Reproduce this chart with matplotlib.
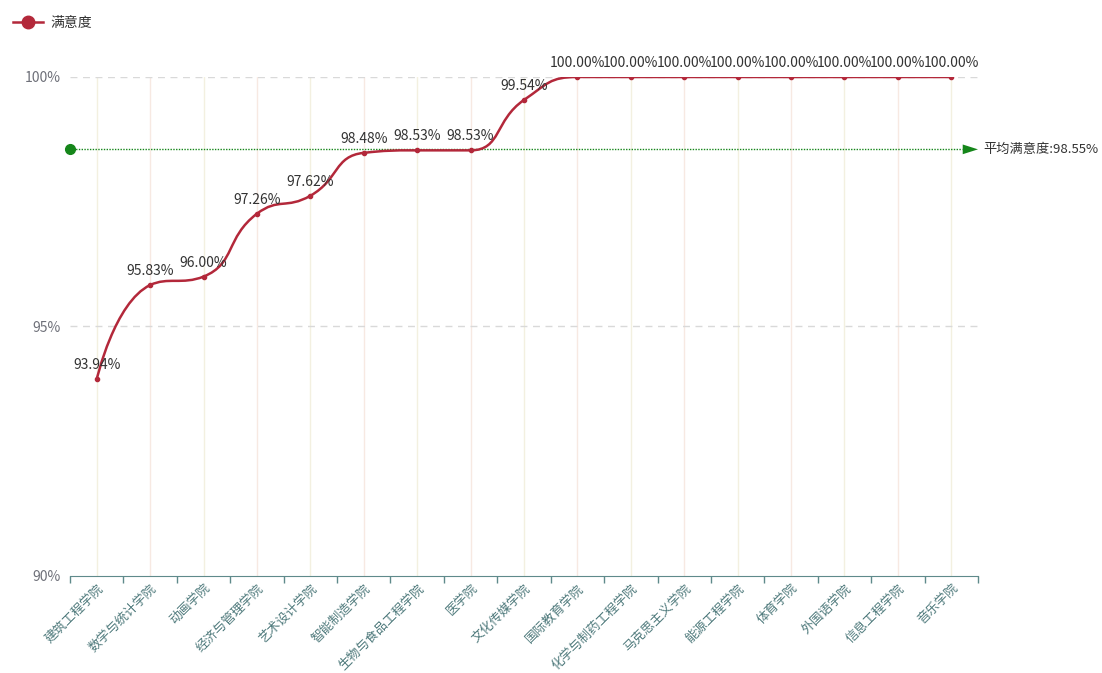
import numpy as np
import matplotlib.pyplot as plt
from matplotlib.path import Path
from matplotlib.patches import PathPatch
from matplotlib.lines import Line2D

plt.rcParams['font.family'] = ['Noto Sans CJK SC', 'DejaVu Sans']

colleges = ['建筑工程学院', '数学与统计学院', '动画学院', '经济与管理学院', '艺术设计学院',
            '智能制造学院', '生物与食品工程学院', '医学院', '文化传媒学院', '国际教育学院',
            '化学与制药工程学院', '马克思主义学院', '能源工程学院', '体育学院', '外国语学院',
            '信息工程学院', '音乐学院']
satisfaction = [93.94, 95.83, 96.00, 97.26, 97.62, 98.48, 98.53, 98.53, 99.54,
                100.00, 100.00, 100.00, 100.00, 100.00, 100.00, 100.00, 100.00]
avg_satisfaction = 98.55
y_ticks = [90, 95, 100]

line_color = '#b3283a'
axis_color = '#5f8a8b'
green = '#15861a'


def smooth_path(px, py, smooth=0.5):
    """Bezier path through points with clamped control points (no overshoot)."""
    n = len(px)
    verts = [(px[0], py[0])]
    codes = [Path.MOVETO]
    cp0 = (px[0], py[0])
    for i in range(1, n):
        x, y = px[i], py[i]
        if i == n - 1:
            verts += [cp0, (x, y), (x, y)]
            codes += [Path.CURVE4] * 3
            break
        x0, y0 = px[i - 1], py[i - 1]
        x1, y1 = px[i + 1], py[i + 1]
        vx, vy = x1 - x0, y1 - y0
        lp = np.hypot(x - x0, y - y0)
        ln = np.hypot(x1 - x, y1 - y)
        r = ln / (ln + lp)
        nx, ny = x + vx * smooth * r, y + vy * smooth * r
        nx = min(max(nx, min(x1, x)), max(x1, x))
        ny = min(max(ny, min(y1, y)), max(y1, y))
        vx, vy = nx - x, ny - y
        c1x, c1y = x - vx * lp / ln, y - vy * lp / ln
        c1x = min(max(c1x, min(x0, x)), max(x0, x))
        c1y = min(max(c1y, min(y0, y)), max(y0, y))
        vx, vy = x - c1x, y - c1y
        nx, ny = x + vx * ln / lp, y + vy * ln / lp
        verts += [cp0, (c1x, c1y), (x, y)]
        codes += [Path.CURVE4] * 3
        cp0 = (nx, ny)
    return verts, codes


fig = plt.figure(figsize=(11.02, 6.73), dpi=100)
ax = fig.add_axes([70 / 1102, 1 - 576 / 673, 908 / 1102, 499 / 673])

n = len(colleges)
x = np.arange(n)
y = np.array(satisfaction)
ax.set_xlim(-0.5, n - 0.5)
ax.set_ylim(90, 100)

# work in pixel units so the smoothing follows the drawn geometry
sx = 908 / n
sy = 499 / 10
verts, codes = smooth_path(x * sx, y * sy)
verts = [(a / sx, b / sy) for a, b in verts]
ax.add_patch(PathPatch(Path(verts, codes), facecolor='none', edgecolor=line_color,
                       lw=1.8, zorder=4))
ax.plot(x, y, 'o', color=line_color, ms=3, zorder=5)

for xi, yi in zip(x, y):
    ax.annotate(f'{yi:.2f}%', (xi, yi), xytext=(0, 5), textcoords='offset points',
                ha='center', va='bottom', fontsize=10, color='#333333', zorder=6)

# grid
for i in x:
    ax.axvline(i, color='#f3f0e0' if i % 2 == 0 else '#f7e9e2', lw=1, zorder=1)
for t in y_ticks[1:]:
    ax.axhline(t, color='#d9d9d9', lw=1, ls=(0, (5, 4)), zorder=1)

# average mark line
ax.plot([-0.5, n - 0.8], [avg_satisfaction] * 2, color=green, lw=1,
        ls=(0, (1, 1)), zorder=3, clip_on=False)
ax.plot(-0.5, avg_satisfaction, 'o', color=green, ms=7, clip_on=False, zorder=6)
ax.annotate('', xy=(n - 0.5, avg_satisfaction), xytext=(n - 0.85, avg_satisfaction),
            arrowprops=dict(arrowstyle='-|>,head_length=1.1,head_width=0.35',
                            color=green, lw=0, shrinkA=0, shrinkB=0),
            annotation_clip=False)
ax.annotate(f'平均满意度:{avg_satisfaction:.2f}%', (n - 0.5, avg_satisfaction),
            xytext=(4, 0), textcoords='offset points', ha='left', va='center',
            fontsize=9.5, color='#333333', annotation_clip=False)

ax.set_yticks(y_ticks)
ax.set_yticklabels([f'{t}%' for t in y_ticks], color='#6e7079', fontsize=10)
ax.tick_params(axis='y', length=0, pad=7)
ax.set_xticks(np.arange(-0.5, n, 1.0))
ax.set_xticklabels([])
ax.set_xticks(x, minor=True)
ax.set_xticklabels(colleges, minor=True, rotation=45, ha='right', va='top',
                   rotation_mode='anchor', fontsize=9.2, color='#4f7a7c')
ax.tick_params(axis='x', which='major', length=5, color=axis_color, width=1)
ax.tick_params(axis='x', which='minor', length=0, pad=4)
for s in ['top', 'right', 'left']:
    ax.spines[s].set_visible(False)
ax.spines['bottom'].set_color(axis_color)

legend_handle = Line2D([], [], color=line_color, marker='o', ms=9, lw=1.8)
fig.legend([legend_handle], ['满意度'], loc='upper left', bbox_to_anchor=(0.0, 0.995),
           frameon=False, fontsize=10, handlelength=2.2, handletextpad=0.5,
           labelcolor='#333333')

fig.savefig('out.png', dpi=100)
